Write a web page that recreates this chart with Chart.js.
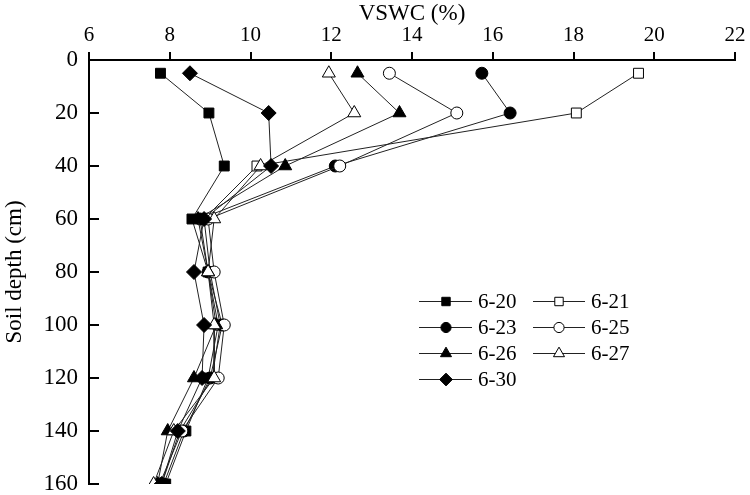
<!DOCTYPE html>
<html>
<head>
<meta charset="utf-8">
<script src="https://cdn.jsdelivr.net/npm/chart.js@4.4.0/dist/chart.umd.min.js"></script>
<style>
  html, body { margin: 0; padding: 0; background: #fff; }
  #wrap { width: 750px; height: 495px; position: relative; }
</style>
</head>
<body>
<div id="wrap"><canvas id="c" width="750" height="495"></canvas></div>
<script>
// ---- data ----
const depths = [5, 20, 40, 60, 80, 100, 120, 140, 160];
const labels = ['6-20', '6-21', '6-23', '6-25', '6-26', '6-27', '6-30'];
const s0620 = [7.77, 8.97, 9.35, 8.55, 8.95, 9.20, 8.95, 8.40, 7.90];
const s0621 = [19.61, 18.07, 10.16, 8.85, 9.00, 9.25, 9.05, 8.25, 7.80];
const s0623 = [15.73, 16.43, 12.10, 8.75, 8.95, 9.30, 9.00, 8.35, 7.85];
const s0625 = [13.44, 15.11, 12.21, 8.95, 9.10, 9.35, 9.20, 8.30, 7.75];
const s0626 = [12.65, 13.69, 10.86, 8.70, 8.95, 9.15, 8.60, 7.95, 7.70];
const s0627 = [11.94, 12.57, 10.25, 9.10, 8.95, 9.10, 9.10, 8.10, 7.60];
const s0630 = [8.50, 10.45, 10.51, 8.85, 8.60, 8.85, 8.80, 8.20, 7.80];
const xTicks = [6, 8, 10, 12, 14, 16, 18, 20, 22];
const yTicks = [0, 20, 40, 60, 80, 100, 120, 140, 160];

const seriesValues = [s0620, s0621, s0623, s0625, s0626, s0627, s0630];
const styles = [
  { shape: 'rect', fill: '#000', r: 7 },
  { shape: 'rect', fill: '#fff', r: 7 },
  { shape: 'circle', fill: '#000', r: 6 },
  { shape: 'circle', fill: '#fff', r: 6 },
  { shape: 'triangle', fill: '#000', r: 7.5 },
  { shape: 'triangle', fill: '#fff', r: 7.5 },
  { shape: 'rectRot', fill: '#000', r: 7.5 }
];

const datasets = seriesValues.map((vals, i) => ({
  label: labels[i],
  data: vals.map((v, k) => ({ x: v, y: depths[k] })),
  showLine: true,
  borderColor: '#222',
  borderWidth: 1,
  pointStyle: styles[i].shape,
  pointRadius: styles[i].r,
  pointHoverRadius: styles[i].r,
  pointBackgroundColor: styles[i].fill,
  pointBorderColor: '#000',
  pointBorderWidth: 1,
  order: seriesValues.length - i
}));

const SERIF = '"Liberation Serif", "Times New Roman", serif';

const insideYTicks = {
  id: 'insideYTicks',
  afterDraw(chart) {
    const ctx = chart.ctx, y = chart.scales.y, a = chart.chartArea;
    ctx.save();
    ctx.strokeStyle = '#000';
    ctx.lineWidth = 2;
    yTicks.forEach(t => {
      const py = Math.round(y.getPixelForValue(t));
      ctx.beginPath();
      ctx.moveTo(a.left, py);
      ctx.lineTo(a.left + 10, py);
      ctx.stroke();
    });
    ctx.restore();
  }
};

const customLegend = {
  id: 'customLegend',
  afterDraw(chart) {
    const ctx = chart.ctx;
    const cols = [{ l: 419, m: 446, r: 472, t: 478 }, { l: 533, m: 559, r: 585, t: 591 }];
    const rowY = [301.5, 327.5, 353.5, 379.5];
    ctx.save();
    chart.data.datasets.forEach((ds, i) => {
      const c = cols[i % 2], yy = rowY[Math.floor(i / 2)];
      ctx.strokeStyle = '#222';
      ctx.lineWidth = 1;
      ctx.beginPath();
      ctx.moveTo(c.l, yy);
      ctx.lineTo(c.r, yy);
      ctx.stroke();
      ctx.fillStyle = ds.pointBackgroundColor;
      ctx.strokeStyle = '#000';
      ctx.lineWidth = 1;
      Chart.helpers.drawPoint(ctx, { pointStyle: ds.pointStyle, radius: ds.pointRadius * 0.85, borderWidth: 1, rotation: 0 }, c.m, yy);
      ctx.fillStyle = '#000';
      ctx.font = '21px ' + SERIF;
      ctx.textAlign = 'left';
      ctx.textBaseline = 'middle';
      ctx.fillText(ds.label, c.t, yy + 1);
    });
    ctx.restore();
  }
};

new Chart(document.getElementById('c'), {
  type: 'scatter',
  data: { datasets },
  plugins: [insideYTicks, customLegend],
  options: {
    responsive: false,
    animation: false,
    layout: { padding: { left: 0, right: 15, top: 0, bottom: 11 } },
    plugins: { legend: { display: false }, tooltip: { enabled: false } },
    scales: {
      x: {
        type: 'linear',
        position: 'top',
        min: 6, max: 22,
        afterFit(s) { s.height = 60; },
        afterBuildTicks(s) { s.ticks = xTicks.map(v => ({ value: v })); },
        ticks: { color: '#000', font: { family: SERIF, size: 21 }, padding: 4, maxRotation: 0 },
        grid: { drawOnChartArea: false, drawTicks: true, tickLength: 8, color: '#000', lineWidth: 2 },
        border: { display: true, color: '#000', width: 2 },
        title: { display: true, text: 'VSWC (%)', color: '#000', font: { family: SERIF, size: 23 }, padding: { top: 0, bottom: 0 } }
      },
      y: {
        type: 'linear',
        reverse: true,
        min: 0, max: 160,
        afterFit(s) { s.width = 89; s.paddingTop = 0; s.paddingBottom = 0; },
        afterBuildTicks(s) { s.ticks = yTicks.map(v => ({ value: v })); },
        ticks: { color: '#000', font: { family: SERIF, size: 23 }, padding: 11 },
        grid: { display: true, drawOnChartArea: false, drawTicks: false, color: '#000' },
        border: { display: true, color: '#000', width: 2 },
        title: { display: true, text: 'Soil depth (cm)', color: '#000', font: { family: SERIF, size: 23 }, padding: { top: 1, bottom: 0 } }
      }
    }
  }
});
</script>
</body>
</html>
